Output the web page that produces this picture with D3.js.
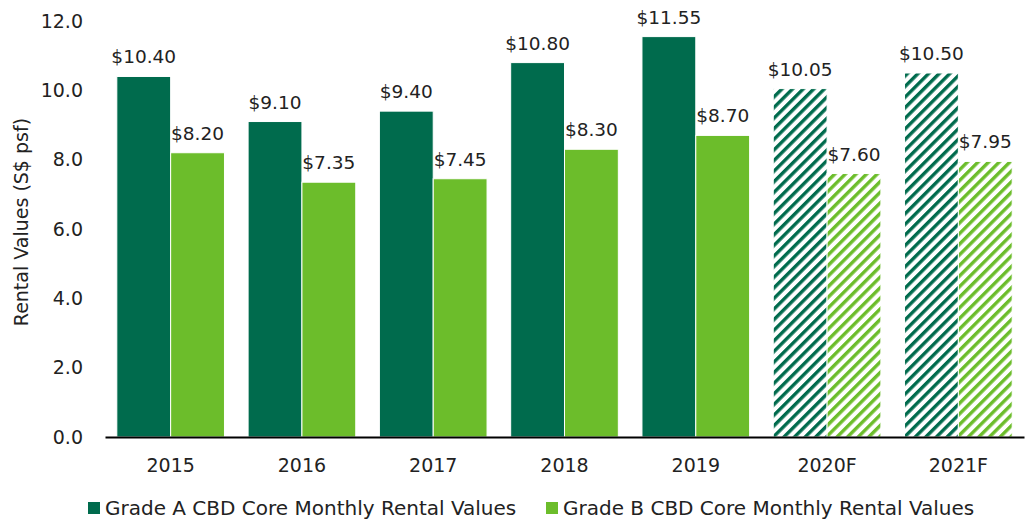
<!DOCTYPE html>
<html lang="en">
<head>
  <meta charset="UTF-8">
  <script src="https://d3js.org/d3.v7.min.js"></script>
  <title>Rental Values</title>
  <style>
    body { margin: 0; background: #fff; }
    text { font-family: "DejaVu Sans", sans-serif; fill: #222; }
  </style>
</head>
<body>
  <svg width="1026" height="520"></svg>
  <script>
    // data
    var years = ["2015", "2016", "2017", "2018", "2019", "2020F", "2021F"];
    var gradeA = [10.40, 9.10, 9.40, 10.80, 11.55, 10.05, 10.50];
    var gradeB = [8.20, 7.35, 7.45, 8.30, 8.70, 7.60, 7.95];
    var forecast = [false, false, false, false, false, true, true];
    var yTicks = [0, 2, 4, 6, 8, 10, 12];
    var seriesNames = ["Grade A CBD Core Monthly Rental Values", "Grade B CBD Core Monthly Rental Values"];
    var colors = ["#006b4d", "#6cbd2b"];

    var svg = d3.select("svg");
    var marge = {top: 21, left: 105, right: 2, bottom: 83};
    var width = 1026, height = 520;
    var plotH = height - marge.top - marge.bottom;

    // hatch patterns for forecast bars
    var defs = svg.append("defs");
    colors.forEach(function(c, i) {
      var p = defs.append("pattern")
        .attr("id", "hatch" + i)
        .attr("patternUnits", "userSpaceOnUse")
        .attr("width", 7.5).attr("height", 7.5)
        .attr("patternTransform", "rotate(45)");
      p.append("rect").attr("width", 7.5).attr("height", 7.5).attr("fill", "#fff");
      p.append("rect").attr("x", 0).attr("width", 3.4).attr("height", 7.5).attr("fill", c);
    });

    var g = svg.append("g").attr("transform", "translate(" + marge.left + "," + marge.top + ")");

    var x0 = d3.scaleBand().domain(years).range([0, width - marge.left - marge.right]).paddingInner(0.18).paddingOuter(0.09);
    var x1 = d3.scaleBand().domain([0, 1]).range([0, x0.bandwidth()]);
    var y = d3.scaleLinear().domain([0, 12]).range([plotH, 0]);

    // y tick labels
    g.selectAll(".ytick").data(yTicks).enter().append("text")
      .attr("x", -22).attr("y", function(d) { return y(d); })
      .attr("dy", "0.35em").attr("text-anchor", "end")
      .style("font-size", "19px")
      .text(function(d) { return d.toFixed(1); });

    // y title
    g.append("text")
      .attr("transform", "translate(" + (-77) + "," + (y(6.2)) + ") rotate(-90)")
      .attr("text-anchor", "middle")
      .style("font-size", "19px")
      .text("Rental Values (S$ psf)");

    var data = years.map(function(yr, i) {
      return {year: yr, vals: [gradeA[i], gradeB[i]], f: forecast[i]};
    });

    var gs = g.selectAll(".grp").data(data).enter().append("g")
      .attr("transform", function(d) { return "translate(" + x0(d.year) + ",0)"; });

    gs.selectAll("rect").data(function(d) { return d.vals.map(function(v, k) { return {v: v, k: k, f: d.f}; }); })
      .enter().append("rect")
      .attr("x", function(d) { return x1(d.k); })
      .attr("y", function(d) { return y(d.v); })
      .attr("width", x1.bandwidth())
      .attr("height", function(d) { return plotH - y(d.v); })
      .attr("fill", function(d) { return d.f ? "url(#hatch" + d.k + ")" : colors[d.k]; })
      .attr("stroke", "#fff").attr("stroke-width", 1);

    gs.selectAll(".lbl").data(function(d) { return d.vals.map(function(v, k) { return {v: v, k: k}; }); })
      .enter().append("text")
      .attr("x", function(d) { return x1(d.k) + x1.bandwidth() / 2; })
      .attr("y", function(d) { return y(d.v) - 13; })
      .attr("text-anchor", "middle")
      .style("font-size", "18.5px")
      .text(function(d) { return "$" + d.v.toFixed(2); });

    // x axis
    var xAxis = d3.axisBottom(x0).tickSize(0).tickPadding(22);
    var ax = g.append("g").attr("transform", "translate(0," + plotH + ")").call(xAxis);
    ax.select(".domain").attr("stroke", "#000").attr("stroke-width", 2);
    ax.selectAll("text").style("font-size", "19px").attr("fill", "#222")
      .style("font-family", "'DejaVu Sans', sans-serif");

    // legend
    var legX = [88, 546];
    var leg = svg.selectAll(".leg").data(seriesNames).enter().append("g")
      .attr("transform", function(d, i) { return "translate(" + legX[i] + ",515)"; });
    leg.append("rect").attr("x", 0).attr("y", -13).attr("width", 12).attr("height", 12)
      .attr("fill", function(d, i) { return colors[i]; });
    leg.append("text").attr("x", 17).attr("y", 0)
      .style("font-size", "20px")
      .text(function(d) { return d; });
  </script>
</body>
</html>
